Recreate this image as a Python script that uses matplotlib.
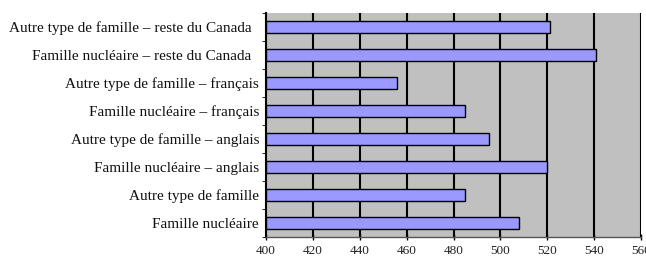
import matplotlib
matplotlib.use('Agg')
import matplotlib.pyplot as plt
import numpy as np

# categories from bottom to top
categories=['Famille nucléaire','Autre type de famille','Famille nucléaire – anglais','Autre type de famille – anglais',
            'Famille nucléaire – français','Autre type de famille – français','Famille nucléaire – reste du Canada  ','Autre type de famille – reste du Canada  ']
values=[508,485,520,495,485,456,541,521]
xticks=[400,420,440,460,480,500,520,540,560]

plt.rcParams['font.family']=['Liberation Serif','DejaVu Serif']

fig=plt.figure(figsize=(6.46,2.59),dpi=100)
ax=fig.add_axes([266/646,22/259,(641-266)/646,(237-13)/259])
ax.set_facecolor('#c0c0c0')

y=np.arange(len(categories))
ax.barh(y,np.array(values)-400,left=400,height=0.4,color='#9999ff',edgecolor='black',linewidth=1.0,zorder=3)

ax.set_xlim(400,560)
ax.set_ylim(-0.5,len(categories)-0.5)
ax.set_xticks(xticks)
ax.set_xticklabels([str(v) for v in xticks],fontsize=9.5,color='#222222')
for v in xticks[1:]:
    ax.axvline(v,color='black',linewidth=1.5,zorder=2)

ax.set_yticks(y)
ax.set_yticklabels(categories,fontsize=11,color='#111111')
ax.set_yticks(np.arange(-0.5,len(categories),1),minor=True)
ax.tick_params(axis='y',which='major',length=0,pad=5)
ax.tick_params(axis='y',which='minor',length=3,direction='out',color='black')
ax.tick_params(axis='x',length=4,direction='inout',width=1.0,pad=4)

for s in ['top','right']:
    ax.spines[s].set_visible(False)
ax.spines['left'].set_linewidth(1.5)
ax.spines['bottom'].set_linewidth(1.0)
ax.spines['bottom'].set_color('#555555')

fig.savefig('out.png',dpi=100)
